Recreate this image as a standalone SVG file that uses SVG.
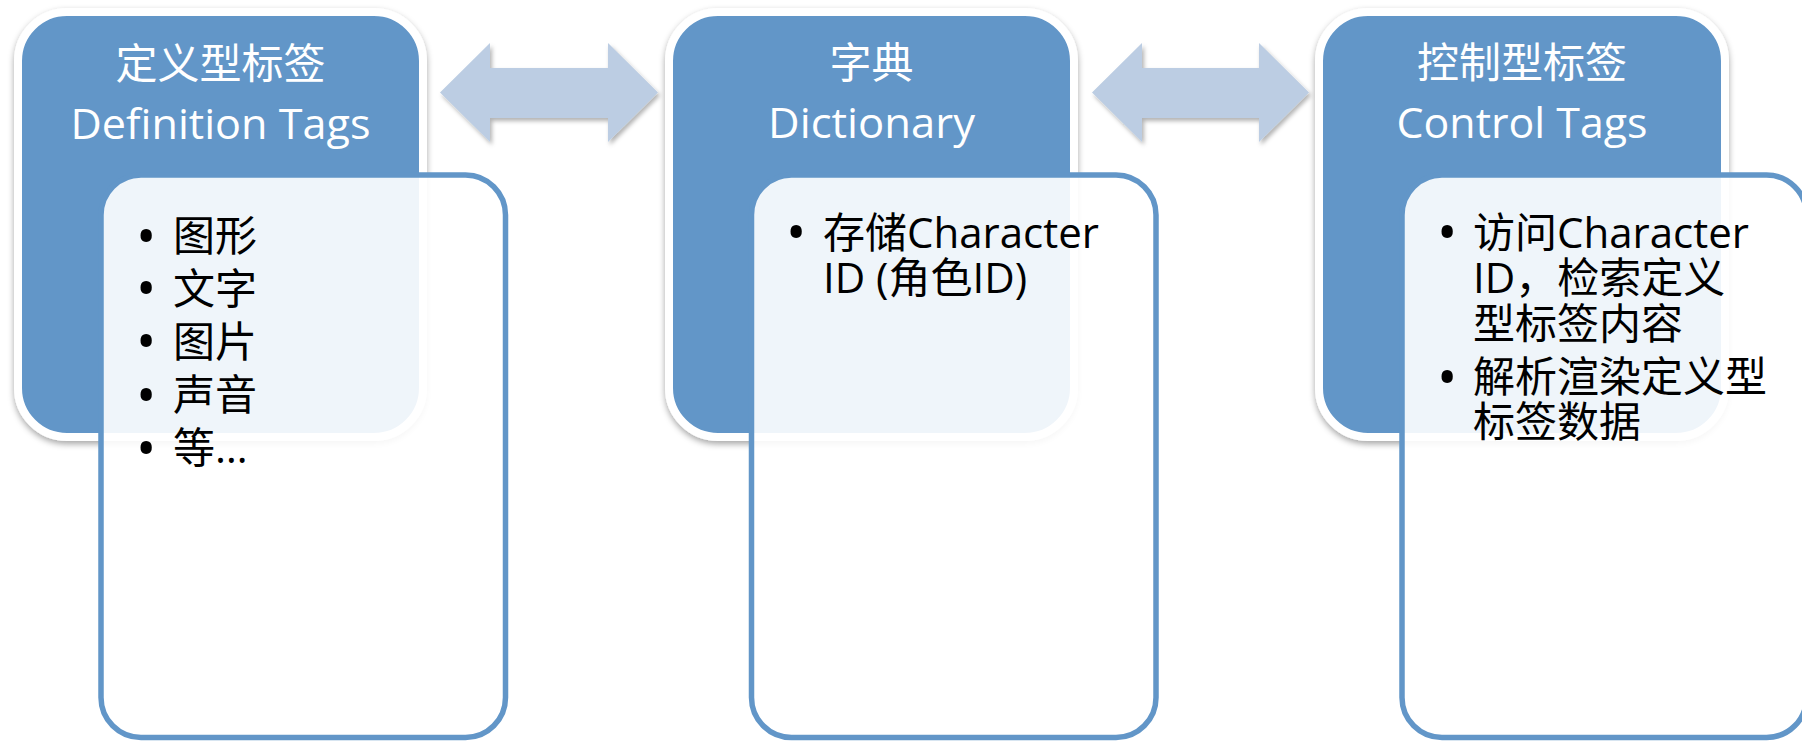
<svg xmlns="http://www.w3.org/2000/svg" width="1802" height="742" viewBox="0 0 1802 742">
<defs>
<filter id="sh" x="-10%" y="-10%" width="120%" height="120%">
<feDropShadow dx="0" dy="3" stdDeviation="3" flood-color="#000" flood-opacity="0.35"/>
</filter>
<filter id="ash" x="-10%" y="-20%" width="120%" height="140%">
<feDropShadow dx="2" dy="3" stdDeviation="2" flood-color="#000" flood-opacity="0.3"/>
</filter>
<style>
.head{fill:#6296C8;stroke:#fff;stroke-width:8}
.body{fill:#fff;fill-opacity:0.9;stroke:#6296C8;stroke-width:5.5}
.arrow{fill:#BCCDE3}
text{font-family:"Open Sans","Noto Sans CJK SC",sans-serif;font-size:42px}
.ht{fill:#fff;text-anchor:middle}
.bt{fill:#000}
.bu{font-size:54px}
</style>
</defs>
<rect width="1802" height="742" fill="#fff"/>
<g id="connectors">
<path class="arrow" filter="url(#ash)" d="M440,92.5 L490,43 L490,68 L608,68 L608,43 L658,92.5 L608,142 L608,118 L490,118 L490,142 Z"/>
<path class="arrow" filter="url(#ash)" d="M1092,92.5 L1142,43 L1142,68 L1259,68 L1259,43 L1309,92.5 L1259,142 L1259,118 L1142,118 L1142,142 Z"/>
</g>
<g id="node-definition">
<rect class="head" filter="url(#sh)" x="18" y="12" width="405" height="425" rx="49"/>
<rect class="body" x="101" y="175" width="404.5" height="562.5" rx="40"/>
<text class="ht" x="220.5" y="79">定义型标签</text>
<text class="ht" x="220.5" y="139" textLength="300" lengthAdjust="spacingAndGlyphs">Definition Tags</text>
<text class="bt"><tspan class="bu" x="136" y="256">•</tspan><tspan x="173" y="251">图形</tspan></text>
<text class="bt"><tspan class="bu" x="136" y="307.6">•</tspan><tspan x="173" y="304">文字</tspan></text>
<text class="bt"><tspan class="bu" x="136" y="361">•</tspan><tspan x="173" y="357">图片</tspan></text>
<text class="bt"><tspan class="bu" x="136" y="415">•</tspan><tspan x="173" y="410">声音</tspan></text>
<text class="bt"><tspan class="bu" x="136" y="467.6">•</tspan><tspan x="173" y="463">等…</tspan></text>
</g>
<g id="node-dictionary">
<rect class="head" filter="url(#sh)" x="669" y="12" width="405" height="425" rx="49"/>
<rect class="body" x="751.5" y="175" width="404.5" height="562.5" rx="40"/>
<text class="ht" x="871.5" y="78">字典</text>
<text class="ht" x="871.5" y="138" textLength="207" lengthAdjust="spacingAndGlyphs">Dictionary</text>
<text class="bt"><tspan class="bu" x="786" y="252.3">•</tspan><tspan x="823" y="248">存储Character</tspan></text>
<text class="bt" x="823" y="293">ID (角色ID)</text>
</g>
<g id="node-control">
<rect class="head" filter="url(#sh)" x="1319" y="12" width="406" height="425" rx="49"/>
<rect class="body" x="1402" y="175" width="404.5" height="562.5" rx="40"/>
<text class="ht" x="1522" y="78">控制型标签</text>
<text class="ht" x="1522" y="138" textLength="251" lengthAdjust="spacingAndGlyphs">Control Tags</text>
<text class="bt"><tspan class="bu" x="1437" y="252.3">•</tspan><tspan x="1473" y="248">访问Character</tspan></text>
<text class="bt" x="1473" y="293">ID，检索定义</text>
<text class="bt" x="1473" y="338.5">型标签内容</text>
<text class="bt"><tspan class="bu" x="1437" y="397.3">•</tspan><tspan x="1473" y="392">解析渲染定义型</tspan></text>
<text class="bt" x="1473" y="437">标签数据</text>
</g>
</svg>
